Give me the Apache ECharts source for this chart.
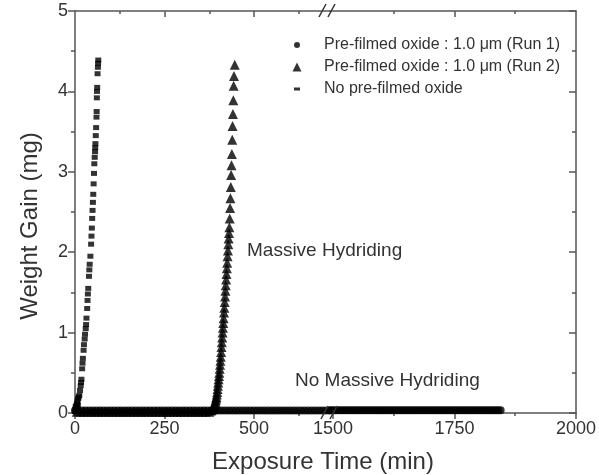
<!DOCTYPE html>
<html><head><meta charset="utf-8">
<script src="https://cdn.jsdelivr.net/npm/echarts@6/dist/echarts.min.js"></script>
<style>html,body{margin:0;padding:0;background:#fff}#c{width:599px;height:475px}</style>
</head><body><div id="c"></div>
<script>
// ---------- data ----------
const seriesNames = [
  'Pre-filmed oxide : 1.0 \u03bcm (Run 1)',
  'Pre-filmed oxide : 1.0 \u03bcm (Run 2)',
  'No pre-filmed oxide'
];
const xTickLabelsLeft = [0, 250, 500];
const xTickLabelsRight = [1500, 1750, 2000];
const xMinorLeft = [125, 375, 625];
const xMinorRight = [1625, 1875];
const xRangeLeft = [0, 712];
const xRangeRight = [1494, 2000];
const yRange = [0, 5];

// Run 1 (circles): no massive hydriding up to ~1845 min
const run1Time = [
  0,10,20,30,40,50,60,70,80,90,100,110,
  120,130,140,150,160,170,180,190,200,210,220,230,
  240,250,260,270,280,290,300,310,320,330,340,350,
  360,370,380,390,400,410,420,430,440,450,460,470,
  480,490,500,510,520,530,540,550,560,570,580,590,
  600,610,620,630,640,650,660,670,680,690,700,710,
  1495,1500,1505,1510,1515,1520,1525,1530,1535,1540,1545,1550,
  1555,1560,1565,1570,1575,1580,1585,1590,1595,1600,1605,1610,
  1615,1620,1625,1630,1635,1640,1645,1650,1655,1660,1665,1670,
  1675,1680,1685,1690,1695,1700,1705,1710,1715,1720,1725,1730,
  1735,1740,1745,1750,1755,1760,1765,1770,1775,1780,1785,1790,
  1795,1800,1805,1810,1815,1820,1825,1830,1835,1840,1845
];
const run1Gain = [
  0.03,0.03,0.03,0.03,0.03,0.03,0.03,0.03,0.03,0.03,0.03,0.03,
  0.03,0.03,0.03,0.03,0.03,0.03,0.03,0.03,0.03,0.03,0.03,0.03,
  0.03,0.03,0.03,0.03,0.03,0.03,0.03,0.03,0.03,0.03,0.03,0.03,
  0.03,0.03,0.03,0.03,0.03,0.03,0.03,0.03,0.03,0.03,0.03,0.03,
  0.03,0.03,0.03,0.03,0.03,0.03,0.03,0.03,0.03,0.03,0.03,0.03,
  0.03,0.03,0.03,0.03,0.03,0.03,0.03,0.03,0.03,0.03,0.03,0.03,
  0.035,0.035,0.035,0.035,0.035,0.035,0.035,0.035,0.035,0.035,0.035,0.035,
  0.035,0.035,0.035,0.035,0.035,0.035,0.035,0.035,0.035,0.035,0.035,0.035,
  0.035,0.035,0.035,0.035,0.035,0.035,0.035,0.035,0.035,0.035,0.035,0.035,
  0.035,0.035,0.035,0.035,0.035,0.035,0.035,0.035,0.035,0.035,0.035,0.035,
  0.035,0.035,0.035,0.035,0.035,0.035,0.035,0.035,0.035,0.035,0.035,0.035,
  0.035,0.035,0.035,0.035,0.035,0.035,0.035,0.035,0.035,0.035,0.035
];

// Run 2 (triangles): incubation then massive hydriding
const run2Time = [
  5,15,25,35,45,55,65,75,85,95,105,115,125,135,145,155,165,175,185,
  195,205,215,225,235,245,255,265,275,285,295,305,315,325,335,345,355,365,375,
  380,382,384,386,388,
  390,391,392,393,394,395,396,397,398,399,400,401,402,403,404,405,406,407,408,409,
  410,411,412,413,414,415,416,417,418,419,420,421,422,423,424,425,426,427,428,429,430,
  431,432,433,434,435,436,437,438,439,440,441,442,443,444,446
];
const run2Gain = [
  0.015,0.015,0.015,0.015,0.015,0.015,0.015,0.015,0.015,0.015,0.015,0.015,0.015,0.015,0.015,0.015,0.015,0.015,0.015,
  0.015,0.015,0.015,0.015,0.015,0.015,0.015,0.015,0.015,0.015,0.015,0.015,0.015,0.015,0.015,0.015,0.015,0.015,0.015,
  0.03,0.04,0.05,0.06,0.08,
  0.1,0.12,0.14,0.16,0.18,0.2,0.23,0.26,0.3,0.34,0.38,0.42,0.46,0.5,0.55,0.6,0.65,0.7,0.76,0.82,
  0.88,0.94,1.0,1.06,1.12,1.18,1.25,1.31,1.38,1.45,1.52,1.59,1.66,1.73,1.8,1.87,1.95,2.02,2.1,2.17,2.24,
  2.31,2.42,2.55,2.67,2.81,2.96,3.08,3.22,3.40,3.57,3.72,3.89,4.07,4.19,4.33
];

// No pre-filmed oxide (dashes)
const noOxTime = [
  0,1,2,3,4,5,6,7,8,9,10,
  12,14,16,17,18,20,21,22,24,25,27,28,30,31,32,34,35,36,37,39,40,41,43,45,
  46,47,48,49,50,51,52,53,54,55,56,
  56.5,57,58,59,60,60.5,61,61.5,62,63,64,64.5,65
];
const noOxGain = [
  0.02,0.05,0.08,0.03,0.1,0.06,0.12,0.15,0.1,0.18,0.2,
  0.22,0.28,0.34,0.38,0.42,0.55,0.62,0.68,0.78,0.85,0.92,0.98,1.05,1.1,1.18,1.3,1.4,1.48,1.55,1.7,1.78,1.85,1.95,2.1,
  2.2,2.3,2.42,2.52,2.62,2.72,2.85,2.98,3.1,3.18,3.25,
  3.3,3.35,3.45,3.55,3.68,3.75,3.92,4.0,4.05,4.22,4.3,4.35,4.39
];

// ---------- build ----------
function pairs(ts, gs, lo, hi) {
  const out = [];
  for (let i = 0; i < ts.length; i++) if (ts[i] >= lo && ts[i] <= hi) out.push([ts[i], gs[i]]);
  return out;
}
const FONT = 'Liberation Sans, Arial, sans-serif';
const AX = '#555';
const TXT = '#333';

function xAx(grid, range, pos, opts) {
  return Object.assign({
    type: 'value', gridIndex: grid, position: pos, min: range[0], max: range[1],
    splitLine: {show: false},
    axisLine: {show: true, onZero: false, lineStyle: {color: AX, width: 1.5}},
    axisLabel: {show: false},
    axisTick: {show: false}
  }, opts);
}

const chart = echarts.init(document.getElementById('c'), null, {renderer: 'canvas'});
const labelStyle = {show: true, fontSize: 18, color: TXT, fontFamily: FONT, margin: 7,
  formatter: v => String(v)};

const legendIcons = [
  {icon: 'circle', w: 6, h: 6, top: 37},
  {icon: 'triangle', w: 9, h: 9, top: 59},
  {icon: 'rect', w: 6, h: 3, top: 81}
];

const option = {
  animation: false,
  backgroundColor: '#fff',
  grid: [
    {left: 75, top: 11, width: 255, bottom: 62},
    {left: 330, top: 11, width: 252, bottom: 62}
  ],
  xAxis: [
    xAx(0, xRangeLeft, 'bottom', {
      axisLabel: Object.assign({customValues: xTickLabelsLeft}, labelStyle),
      axisTick: {show: true, customValues: xTickLabelsLeft, length: 6, lineStyle: {color: AX, width: 1.5}}
    }),
    xAx(0, xRangeLeft, 'bottom', {
      axisLine: {show: false},
      axisTick: {show: true, customValues: xMinorLeft, length: 3, lineStyle: {color: AX, width: 1.5}}
    }),
    xAx(0, xRangeLeft, 'top', {
      axisTick: {show: true, inside: true, customValues: xTickLabelsLeft.slice(1), length: 6, lineStyle: {color: AX, width: 1.5}}
    }),
    xAx(0, xRangeLeft, 'top', {
      axisLine: {show: false},
      axisTick: {show: true, inside: true, customValues: xMinorLeft, length: 3, lineStyle: {color: AX, width: 1.5}}
    }),
    xAx(1, xRangeRight, 'bottom', {
      axisLabel: Object.assign({customValues: xTickLabelsRight}, labelStyle),
      axisTick: {show: true, customValues: xTickLabelsRight, length: 6, lineStyle: {color: AX, width: 1.5}}
    }),
    xAx(1, xRangeRight, 'bottom', {
      axisLine: {show: false},
      axisTick: {show: true, customValues: xMinorRight, length: 3, lineStyle: {color: AX, width: 1.5}}
    }),
    xAx(1, xRangeRight, 'top', {
      axisTick: {show: true, inside: true, customValues: [1750], length: 6, lineStyle: {color: AX, width: 1.5}}
    }),
    xAx(1, xRangeRight, 'top', {
      axisLine: {show: false},
      axisTick: {show: true, inside: true, customValues: xMinorRight, length: 3, lineStyle: {color: AX, width: 1.5}}
    })
  ],
  yAxis: [
    {
      type: 'value', gridIndex: 0, position: 'left', min: yRange[0], max: yRange[1], interval: 1,
      splitLine: {show: false},
      axisLine: {show: true, lineStyle: {color: AX, width: 1.5}},
      axisTick: {show: true, length: 7, lineStyle: {color: AX, width: 1.5}},
      minorTick: {show: true, splitNumber: 2, length: 4, lineStyle: {color: AX, width: 1.5}},
      minorSplitLine: {show: false},
      axisLabel: labelStyle
    },
    {
      type: 'value', gridIndex: 1, position: 'right', min: yRange[0], max: yRange[1], interval: 1,
      splitLine: {show: false},
      axisLine: {show: true, lineStyle: {color: AX, width: 1.5}},
      axisTick: {show: true, inside: true, length: 7, lineStyle: {color: AX, width: 1.5}},
      minorTick: {show: true, splitNumber: 2, length: 4, lineStyle: {color: AX, width: 1.5}},
      minorSplitLine: {show: false},
      axisLabel: {show: false}
    }
  ],
  legend: legendIcons.map((ic, i) => ({
    data: [seriesNames[i]], icon: ic.icon, itemWidth: ic.w, itemHeight: ic.h,
    left: 297 - ic.w / 2, top: ic.top, padding: 0, selectedMode: false,
    textStyle: {fontSize: 16, color: TXT, fontFamily: FONT, padding: [0, 0, 0, 324 - (297 + ic.w / 2 + 5)]}
  })),
  series: [
    {type: 'scatter', name: seriesNames[0], xAxisIndex: 0, yAxisIndex: 0, symbol: 'circle', symbolSize: 8,
     clip: false, itemStyle: {color: '#000'}, data: pairs(run1Time, run1Gain, xRangeLeft[0], xRangeLeft[1])},
    {type: 'scatter', name: seriesNames[0], xAxisIndex: 4, yAxisIndex: 1, symbol: 'circle', symbolSize: 8,
     clip: false, itemStyle: {color: '#000'}, data: pairs(run1Time, run1Gain, xRangeRight[0], xRangeRight[1])},
    {type: 'scatter', name: seriesNames[1], xAxisIndex: 0, yAxisIndex: 0, symbol: 'triangle', symbolSize: 10,
     clip: false, itemStyle: {color: '#000'}, data: pairs(run2Time, run2Gain, xRangeLeft[0], xRangeLeft[1])},
    {type: 'scatter', name: seriesNames[2], xAxisIndex: 0, yAxisIndex: 0, symbol: 'rect', symbolSize: [6, 5],
     clip: false, itemStyle: {color: '#000'}, data: pairs(noOxTime, noOxGain, xRangeLeft[0], xRangeLeft[1])}
  ],
  graphic: [
    {type: 'text', x: 30, y: 226, rotation: Math.PI / 2,
     style: {text: 'Weight Gain (mg)', font: '24px ' + FONT, fill: TXT, align: 'center', verticalAlign: 'middle'}},
    {type: 'text', x: 323, y: 462,
     style: {text: 'Exposure Time (min)', font: '24px ' + FONT, fill: TXT, align: 'center', verticalAlign: 'middle'}},
    {type: 'text', x: 247, y: 251,
     style: {text: 'Massive Hydriding', font: '19px ' + FONT, fill: TXT, align: 'left', verticalAlign: 'middle'}},
    {type: 'text', x: 295, y: 381,
     style: {text: 'No Massive Hydriding', font: '19px ' + FONT, fill: TXT, align: 'left', verticalAlign: 'middle'}},
    {type: 'line', shape: {x1: 319, y1: 17, x2: 326, y2: 4}, style: {stroke: '#333', lineWidth: 1.5}, z: 10},
    {type: 'line', shape: {x1: 328, y1: 17, x2: 335, y2: 4}, style: {stroke: '#333', lineWidth: 1.5}, z: 10},
    {type: 'line', shape: {x1: 321, y1: 419, x2: 328, y2: 406}, style: {stroke: '#333', lineWidth: 1.5}, z: 10},
    {type: 'line', shape: {x1: 330, y1: 419, x2: 337, y2: 406}, style: {stroke: '#333', lineWidth: 1.5}, z: 10}
  ]
};
chart.setOption(option);
</script>
</body></html>
